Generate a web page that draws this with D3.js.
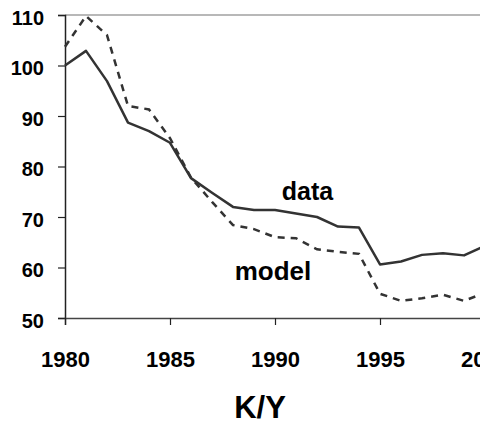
<!DOCTYPE html>
<html>
<head>
<meta charset="utf-8">
<script src="https://cdn.jsdelivr.net/npm/d3@7"></script>
<style>
  body { margin: 0; background: #fff; }
  svg { display: block; font-family: Arial, "Liberation Sans", sans-serif; font-weight: bold; }
</style>
</head>
<body>
<svg id="chart" width="480" height="424"></svg>
<script>
// values
const years = [1980,1981,1982,1983,1984,1985,1986,1987,1988,1989,1990,
               1991,1992,1993,1994,1995,1996,1997,1998,1999,2000];
const dataVals = [100,102.9,96.9,88.7,87.0,84.7,77.7,74.8,72.0,71.4,71.4,
                  70.7,70.0,68.1,67.9,60.6,61.2,62.5,62.8,62.4,64.3];
const modelVals = [103.7,109.8,106.0,92.0,91.3,85.6,77.8,73.0,68.4,67.6,66.0,
                   65.8,63.6,63.1,62.7,54.8,53.4,53.9,54.6,53.4,55.0];
const yTicks = [50,60,70,80,90,100,110];
const xTicks = [1980,1985,1990,1995,2000];

const svg = d3.select("#chart");

const x = d3.scaleLinear().domain([1980, 2000]).range([65, 485]);
const y = d3.scaleLinear().domain([50, 110]).range([318, 15]);

// top gridline
svg.append("line")
  .attr("x1", x(1980)).attr("x2", 480)
  .attr("y1", y(110)).attr("y2", y(110))
  .attr("stroke", "#a0a0a0").attr("stroke-width", 1.5);

// y axis
const yAxis = svg.append("g")
  .attr("transform", "translate(" + x(1980) + ",0)")
  .call(d3.axisLeft(y).tickValues(yTicks).tickSize(7).tickPadding(14));
yAxis.select(".domain").attr("stroke", "#222").attr("stroke-width", 1.5);
yAxis.selectAll(".tick line").attr("stroke", "#222").attr("stroke-width", 1.2);
yAxis.selectAll("text")
  .attr("font-size", 20).attr("font-family", "Arial, 'Liberation Sans', sans-serif")
  .attr("font-weight", "bold").attr("fill", "#000").attr("dy", "0.45em");

// x axis (2000 label runs off the right edge, as in the original)
const xAxis = svg.append("g")
  .attr("transform", "translate(0," + y(50) + ")")
  .call(d3.axisBottom(x).tickValues(xTicks).tickFormat(d3.format("d")).tickSize(7).tickPadding(0));
xAxis.select(".domain").attr("stroke", "#444").attr("stroke-width", 1.5);
xAxis.selectAll(".tick line").attr("stroke", "#222").attr("stroke-width", 1.2);
xAxis.selectAll("text")
  .attr("font-size", 22).attr("font-family", "Arial, 'Liberation Sans', sans-serif")
  .attr("font-weight", "bold").attr("fill", "#000")
  .attr("y", 49).attr("dy", 0);

// lines
const line = d3.line()
  .x((d, i) => x(years[i]))
  .y(d => y(d));

svg.append("path")
  .datum(modelVals)
  .attr("d", line)
  .attr("fill", "none")
  .attr("stroke", "#333")
  .attr("stroke-width", 2.5)
  .attr("stroke-dasharray", "7,6");

svg.append("path")
  .datum(dataVals)
  .attr("d", line)
  .attr("fill", "none")
  .attr("stroke", "#333")
  .attr("stroke-width", 2.5)
  .attr("stroke-linejoin", "round");

// series labels
svg.append("text")
  .attr("x", 307.5).attr("y", 200)
  .attr("text-anchor", "middle")
  .attr("font-size", 25)
  .text("data");

svg.append("text")
  .attr("x", 273).attr("y", 280)
  .attr("text-anchor", "middle")
  .attr("font-size", 26)
  .text("model");

// axis title
svg.append("text")
  .attr("x", 260).attr("y", 418)
  .attr("text-anchor", "middle")
  .attr("font-size", 31)
  .text("K/Y");
</script>
</body>
</html>
